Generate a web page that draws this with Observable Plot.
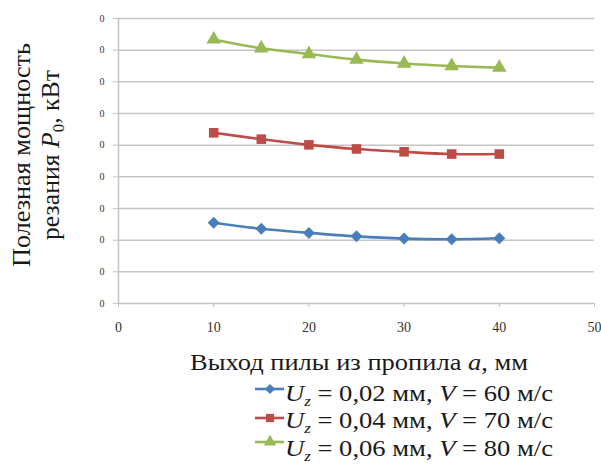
<!DOCTYPE html>
<html>
<head>
<meta charset="utf-8">
<script src="https://cdn.jsdelivr.net/npm/d3@7"></script>
<script src="https://cdn.jsdelivr.net/npm/@observablehq/plot@0.6"></script>
<style>
  html, body { margin: 0; padding: 0; background: #fff; }
  #chart svg { display: block; }
  #chart svg text { font-family: "Liberation Serif", "Times New Roman", serif !important; }
</style>
</head>
<body>
<div id="chart"></div>
<script>
// x: выход пилы из пропила a, мм
const xValues = [10, 15, 20, 25, 30, 35, 40];
// series values (in units of the y gridlines)
const series1 = [2.55, 2.36, 2.23, 2.12, 2.05, 2.03, 2.06];
const series2 = [5.39, 5.19, 5.01, 4.88, 4.79, 4.72, 4.72];
const series3 = [8.34, 8.06, 7.88, 7.70, 7.58, 7.50, 7.45];
const seriesNames = ["s1", "s2", "s3"];
const seriesColors = ["#4a7ebb", "#be4b48", "#98b954"];
const seriesSymbols = ["diamond2", "square", "triangle"];
const xTicks = [0, 10, 20, 30, 40, 50];
const yTicks = [0, 1, 2, 3, 4, 5, 6, 7, 8, 9];
const yTickLabel = "0";
const xTitle = "Выход пилы из пропила ";
const yTitle1 = "Полезная мощность";
const legendItems = [
  {u: "0,02", v: "60"},
  {u: "0,04", v: "70"},
  {u: "0,06", v: "80"}
];

const data = [];
[series1, series2, series3].forEach((s, i) => {
  s.forEach((y, j) => data.push({series: seriesNames[i], x: xValues[j], y}));
});

const font = "Liberation Serif";
const grid = "#c4c4c4";
const svg = Plot.plot({
  width: 601,
  height: 466,
  marginLeft: 118,
  marginRight: 7,
  marginTop: 18,
  marginBottom: 163,
  style: {fontFamily: font, background: "#fff"},
  x: {domain: [0, 50]},
  y: {domain: [0, 9]},
  color: {domain: seriesNames, range: seriesColors},
  symbol: {domain: seriesNames, range: seriesSymbols},
  marks: [
    Plot.gridY(yTicks, {stroke: grid, strokeOpacity: 1, strokeWidth: 1.5}),
    Plot.ruleX([0], {stroke: grid, strokeWidth: 1.5}),
    Plot.axisY(yTicks, {tickFormat: () => yTickLabel, tickSize: 5, tickPadding: 9, fontSize: 10, stroke: grid, fill: "#333", label: null}),
    Plot.axisX(xTicks, {tickSize: 4, tickPadding: 15, fontSize: 14, stroke: grid, fill: "#333", label: null}),
    Plot.line(data, {x: "x", y: "y", z: "series", stroke: "series", strokeWidth: 2.6, curve: "catmull-rom"}),
    Plot.dot(data, {x: "x", y: "y", fill: "series", symbol: "series", r: 5.4, stroke: "none"})
  ]
});

const s = d3.select(svg);
const g = s.append("g").attr("font-family", font).attr("fill", "#1a1a1a").attr("text-anchor", "start");

// Y title (two rotated lines)
g.append("text").attr("transform", "translate(30,267) rotate(-90)")
  .attr("font-size", 24.5).attr("textLength", 224).attr("lengthAdjust", "spacingAndGlyphs").text(yTitle1);
const yt2 = g.append("text").attr("transform", "translate(59,240) rotate(-90)")
  .attr("font-size", 24.5).attr("textLength", 170).attr("lengthAdjust", "spacingAndGlyphs");
yt2.append("tspan").text("резания ");
yt2.append("tspan").attr("font-style", "italic").text("P");
yt2.append("tspan").attr("font-size", 16).attr("dy", 5).text("0");
yt2.append("tspan").attr("dy", -5).text(", кВт");

// X title
const xt = g.append("text").attr("x", 190).attr("y", 370).attr("font-size", 23)
  .attr("textLength", 338).attr("lengthAdjust", "spacingAndGlyphs");
xt.append("tspan").text(xTitle);
xt.append("tspan").attr("font-style", "italic").text("a");
xt.append("tspan").text(", мм");

// Legend
const baselines = [401, 428, 456];
const sampleY = [389, 418, 442];
legendItems.forEach((it, i) => {
  const yb = baselines[i];
  const ly = sampleY[i];
  g.append("line").attr("x1", 255).attr("x2", 284).attr("y1", ly).attr("y2", ly)
    .attr("stroke", seriesColors[i]).attr("stroke-width", 2.6);
  const sym = d3.symbol(
    i === 0 ? d3.symbolDiamond2 : i === 1 ? d3.symbolSquare : d3.symbolTriangle,
    Math.PI * 4.6 * 4.6)();
  g.append("path").attr("d", sym).attr("transform", `translate(270,${ly})`).attr("fill", seriesColors[i]);
  const t = g.append("text").attr("x", 285).attr("y", yb).attr("font-size", 23.5)
    .attr("textLength", 268).attr("lengthAdjust", "spacingAndGlyphs");
  t.append("tspan").attr("font-style", "italic").text("U");
  t.append("tspan").attr("font-style", "italic").attr("font-size", 15).attr("dy", 5).text("z");
  t.append("tspan").attr("dy", -5).text(` = ${it.u} мм, `);
  t.append("tspan").attr("font-style", "italic").text("V");
  t.append("tspan").text(` = ${it.v} м/с`);
});

document.getElementById("chart").appendChild(svg);
</script>
</body>
</html>
